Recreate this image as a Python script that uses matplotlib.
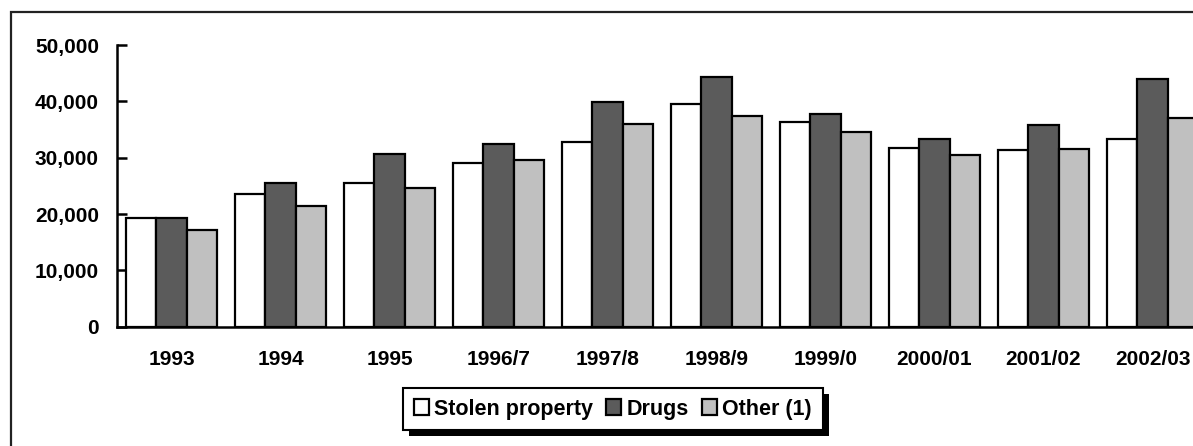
import matplotlib
matplotlib.use('Agg')
import matplotlib.pyplot as plt
import numpy as np
from matplotlib.patches import Rectangle

years = ["1993", "1994", "1995", "1996/7", "1997/8", "1998/9",
         "1999/0", "2000/01", "2001/02", "2002/03"]
stolen = [19300, 23500, 25500, 29000, 32800, 39600, 36300, 31800, 31300, 33300]
drugs = [19300, 25500, 30600, 32500, 39900, 44400, 37700, 33300, 35800, 44000]
other = [17100, 21400, 24700, 29600, 35900, 37400, 34600, 30400, 31600, 37100]
series_names = ["Stolen property", "Drugs", "Other (1)"]
yticks = [0, 10000, 20000, 30000, 40000, 50000]

colors = ["#ffffff", "#5b5b5b", "#c0c0c0"]

plt.rcParams['font.family'] = ['Liberation Sans', 'DejaVu Sans']
plt.rcParams['font.weight'] = 'bold'

W, H = 1193, 446
fig = plt.figure(figsize=(W / 100, H / 100), dpi=100)

# axes: left edge at 117px, 109px per category, zero at y=326.7, 50k at y=45
left = 117 / W
width = 1090 / W
bottom = (H - 326.7) / H
height = (326.7 - 45) / H
ax = fig.add_axes([left, bottom, width, height])

x = np.arange(len(years))
w = 0.278
for i, (vals, name) in enumerate(zip([stolen, drugs, other], series_names)):
    ax.bar(x + (i - 1) * w, vals, w, color=colors[i], edgecolor='black',
           linewidth=1.6, label=name, zorder=2)

ax.set_xlim(-0.5, 9.5)
ax.set_ylim(0, 50000)
ax.set_yticks(yticks)
ax.set_yticklabels([f"{v:,}" for v in yticks], fontsize=15, fontweight='bold')
ax.set_xticks(x)
ax.set_xticklabels(years, fontsize=15, fontweight='bold')
ax.tick_params(axis='y', direction='in', length=7, width=1.8, pad=13)
ax.tick_params(axis='x', length=0, pad=17)
for s in ['top', 'right']:
    ax.spines[s].set_visible(False)
for s in ['left', 'bottom']:
    ax.spines[s].set_linewidth(1.8)
    ax.spines[s].set_zorder(3)

leg = fig.legend(loc='center', bbox_to_anchor=(613 / W, (H - 409) / H),
                 ncol=3, frameon=True, fancybox=False, shadow=False,
                 framealpha=1,
                 prop={'size': 15.5, 'weight': 'bold'},
                 handlelength=0.7, handleheight=0.7, handletextpad=0.25,
                 columnspacing=0.6, borderpad=0.5, borderaxespad=0)
leg.get_frame().set_edgecolor('black')
leg.get_frame().set_facecolor('white')
leg.get_frame().set_linewidth(1.5)
leg.set_zorder(5)

# black drop shadow behind legend box
fig.canvas.draw()
bb = leg.get_window_extent().transformed(fig.transFigure.inverted())
fig.add_artist(Rectangle((bb.x0 + 6 / W, bb.y0 - 6 / H), bb.width, bb.height,
                         transform=fig.transFigure, facecolor='black',
                         edgecolor='none', zorder=4))

# outer chart frame (clipped at right and bottom)
fig.add_artist(Rectangle((11 / W, -0.1), 1.2, (H - 12) / H + 0.1,
                         transform=fig.transFigure, facecolor='none',
                         edgecolor='#222222', linewidth=1.6, zorder=6))

fig.savefig("out.png", dpi=100)
